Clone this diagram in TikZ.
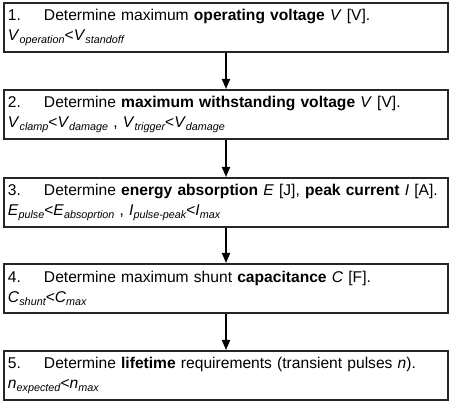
\documentclass[tikz,border=0pt]{standalone}
\usepackage{fontspec}
\setmainfont{Liberation Sans}
\usetikzlibrary{arrows.meta}
\newcommand{\subtx}[1]{\raisebox{-0.35ex}{\fontsize{10.8}{10.8}\selectfont\itshape #1}}
\newcommand{\numtx}[1]{\makebox[36pt][l]{#1}}
\begin{document}
\begin{tikzpicture}[x=1pt,y=-1pt]
\tikzset{
  stepbox/.style={draw=black!85, line width=2pt, minimum width=444pt, minimum height=49pt,
    text width=436pt, inner xsep=4pt, inner ysep=0pt, align=left, anchor=north west,
    font=\fontsize{15.6}{20}\selectfont},
  flow/.style={-{Triangle[length=10pt,width=8pt]}, line width=1.8pt, draw=black}
}
\useasboundingbox (0,0) rectangle (450,403);
\node[stepbox] (b1) at (3,2) {\numtx{1.}Determine maximum \textbf{operating voltage} \textit{V} [V].\\
  \textit{V}\subtx{operation}<\textit{V}\subtx{standoff}};
\node[stepbox] (b2) at (3,89) {\numtx{2.}Determine \textbf{maximum withstanding voltage} \textit{V} [V].\\
  \textit{V}\subtx{clamp}<\textit{V}\subtx{damage} , \textit{V}\subtx{trigger}<\textit{V}\subtx{damage}};
\node[stepbox] (b3) at (3,177) {\numtx{3.}Determine \textbf{energy absorption} \textit{E} [J], \textbf{peak current} \textit{I} [A].\\
  \textit{E}\subtx{pulse}<\textit{E}\subtx{absoprtion} , \textit{I}\subtx{pulse-peak}<\textit{I}\subtx{max}};
\node[stepbox] (b4) at (3,263) {\numtx{4.}Determine maximum shunt \textbf{capacitance} \textit{C} [F].\\
  \textit{C}\subtx{shunt}<\textit{C}\subtx{max}};
\node[stepbox] (b5) at (3,350) {\numtx{5.}Determine \textbf{lifetime} requirements (transient pulses \textit{n}).\\
  \textit{n}\subtx{expected}<\textit{n}\subtx{max}};
\draw[flow] (b1.south) -- (b2.north);
\draw[flow] (b2.south) -- (b3.north);
\draw[flow] (b3.south) -- (b4.north);
\draw[flow] (b4.south) -- (b5.north);
\end{tikzpicture}
\end{document}
